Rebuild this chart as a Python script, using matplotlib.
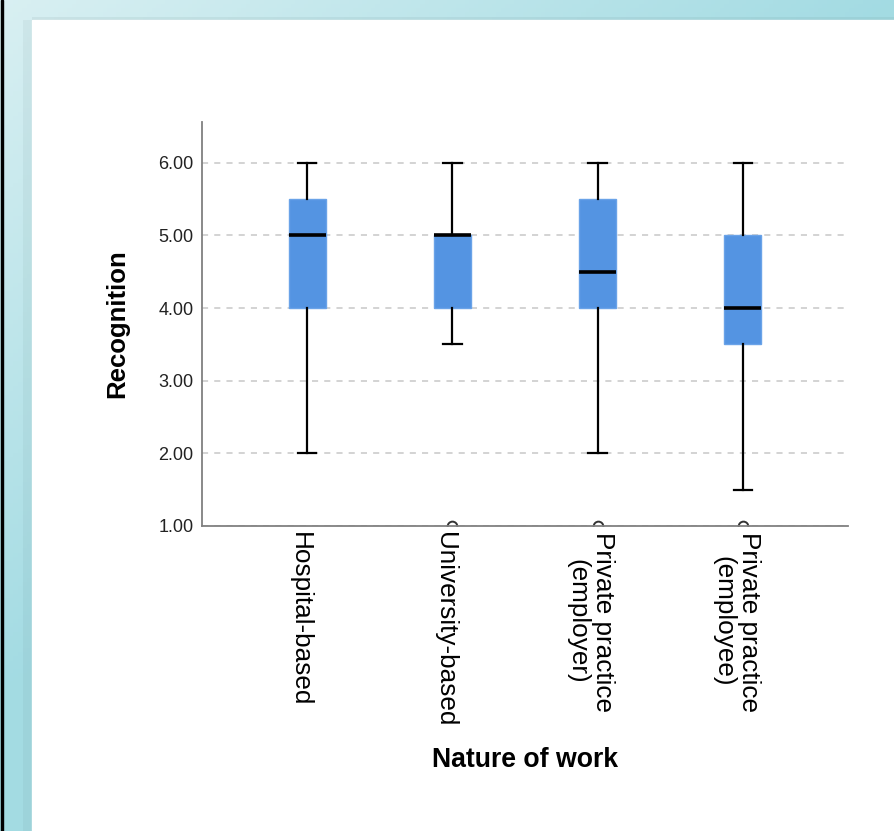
import numpy as np
import matplotlib
matplotlib.use("Agg")
import matplotlib.pyplot as plt
import matplotlib.transforms as mtransforms
from matplotlib.patches import Rectangle

plt.rcParams['font.family'] = ['Liberation Sans', 'DejaVu Sans']

groups = ["Hospital-based", "University-based",
          "Private practice\n(employer)", "Private practice\n(employee)"]
whislo = [2.0, 3.5, 2.0, 1.5]
q1 = [4.0, 4.0, 4.0, 3.5]
med = [5.0, 5.0, 4.5, 4.0]
q3 = [5.5, 5.0, 5.5, 5.0]
whishi = [6.0, 6.0, 6.0, 6.0]
outliers = [[], [1.0], [1.0], [1.0]]
yticks = [1, 2, 3, 4, 5, 6]

W, H = 894, 831
fig = plt.figure(figsize=(W / 100, H / 100), dpi=100)
fig.patch.set_facecolor("white")

# window frame: teal band on the left and top, black edge line
bg = fig.add_axes([0, 0, 1, 1], zorder=-10)
bg.set_axis_off()
gx, gy = np.meshgrid(np.linspace(0, 1, 200), np.linspace(1, 0, 200))
t = np.clip(gx + 1.2 * (1 - gy), 0, 1)[..., None]
light = np.array([0.85, 0.94, 0.95])
dark = np.array([0.64, 0.86, 0.89])
img = light * (1 - t) + dark * t
bg.imshow(img, extent=[0, 1, 0, 1], aspect="auto")
bg.set_xlim(0, 1)
bg.set_ylim(0, 1)
bg.add_patch(Rectangle((32 / W, 0), 1, (H - 20) / H, color="white"))
bg.add_patch(Rectangle((32 / W, (H - 20) / H), 1, 3 / H, color="#406060",
                       alpha=0.08, lw=0))
bg.add_patch(Rectangle((23 / W, 0), 9 / W, (H - 20) / H, color="#406060",
                       alpha=0.06, lw=0))
bg.add_patch(Rectangle((1 / W, 0), 2 / W, 1, color="black"))

ax = fig.add_axes([202 / W, 1 - 526 / H, (848 - 202) / W, (526 - 122) / H])
ax.set_facecolor("none")

stats = []
for i in range(len(groups)):
    stats.append(dict(med=med[i], q1=q1[i], q3=q3[i], whislo=whislo[i],
                      whishi=whishi[i], fliers=outliers[i]))

ax.bxp(stats, positions=range(1, len(groups) + 1), widths=0.255,
       patch_artist=True, showfliers=True,
       boxprops=dict(facecolor="#5494e2", edgecolor="#6aa3e8", linewidth=1),
       medianprops=dict(color="black", linewidth=2.6),
       whiskerprops=dict(color="black", linewidth=1.6),
       capprops=dict(color="black", linewidth=1.6),
       flierprops=dict(marker="o", markersize=7, markerfacecolor="white",
                       markeredgecolor="#333333", markeredgewidth=1.4))

ax.set_xlim(0.276, 4.724)
ax.set_ylim(1.0, 6.56)
ax.set_yticks(yticks)
ax.set_yticklabels(["%.2f" % v for v in yticks], fontsize=13, color="#222222")
ax.set_xticks(range(1, len(groups) + 1))
ax.set_xticklabels(groups, rotation=-90, fontsize=18.8, va="top", ha="center",
                   linespacing=1.08)
ax.tick_params(axis="both", length=0, pad=6)
ax.tick_params(axis="x", pad=4)
shift = mtransforms.ScaledTranslation(-7 / 100, 0, fig.dpi_scale_trans)
for lab in ax.get_xticklabels():
    lab.set_transform(lab.get_transform() + shift)

ax.yaxis.grid(True, linestyle=(0, (4, 4)), color="#c8c8c8", linewidth=1.1)
ax.set_axisbelow(True)
for s in ["top", "right"]:
    ax.spines[s].set_visible(False)
for s in ["left", "bottom"]:
    ax.spines[s].set_color("#808080")
    ax.spines[s].set_linewidth(1.3)

fig.text(117 / W, 1 - 324 / H, "Recognition", rotation=90, ha="center",
         va="center", fontsize=18.5, fontweight="bold")
fig.text(525 / W, 1 - 760 / H, "Nature of work", ha="center", va="center",
         fontsize=19.2, fontweight="bold")

fig.savefig("out.png", dpi=100)
